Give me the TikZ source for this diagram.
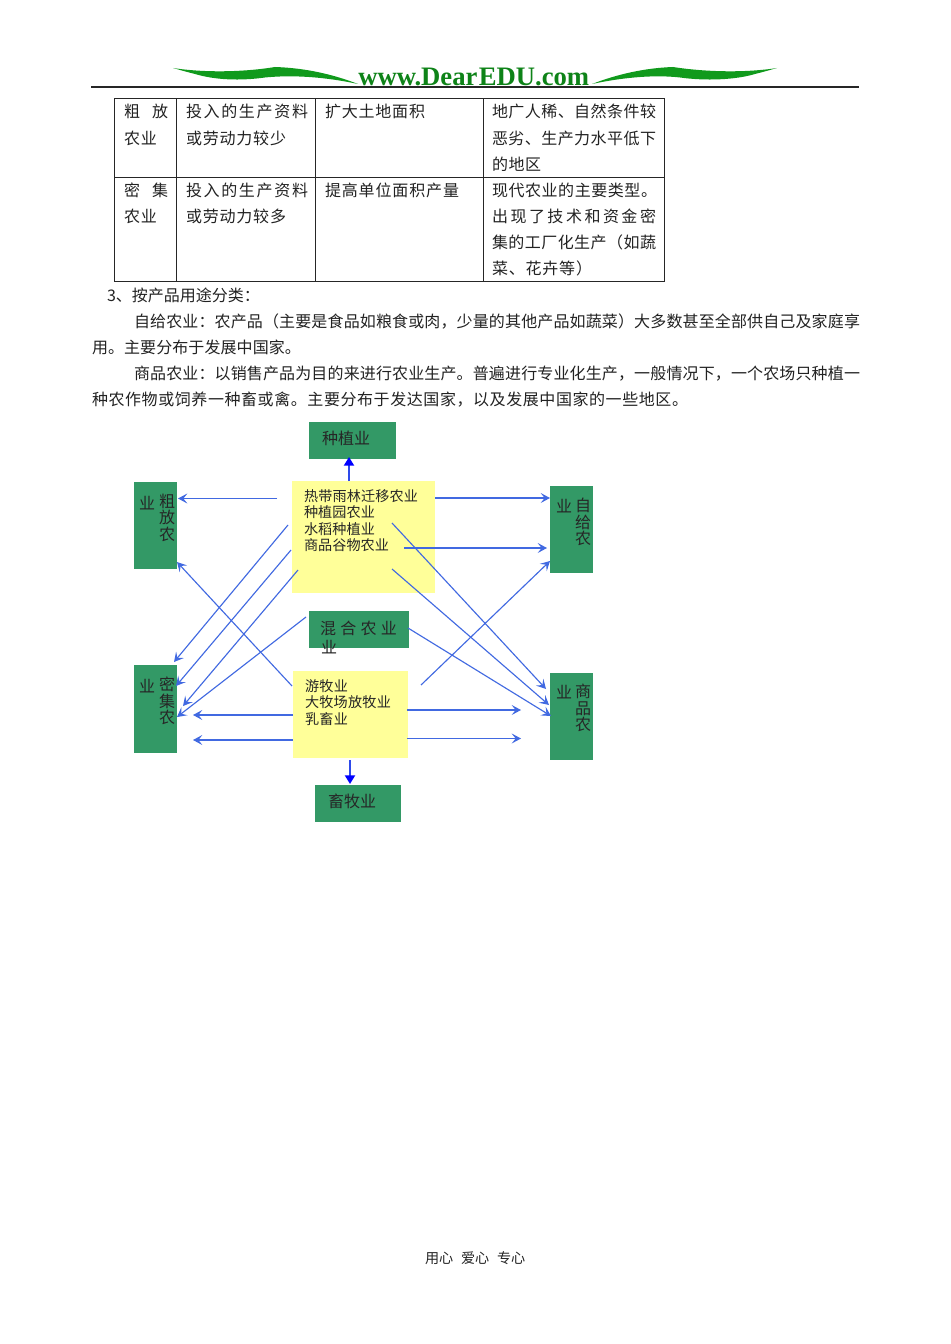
\documentclass[tikz,border=0pt]{standalone}
\usepackage{fontspec}
\setmainfont{Noto Sans CJK SC}
\newfontfamily\logofont{Liberation Serif}
\usetikzlibrary{arrows.meta,fit}
\newdimen\pxu \pxu=0.75pt
\makeatletter
\newcommand\spr[2]{\hbox to #1\pxu{\def\zsep{}\@tfor\zc:=#2\do{\zsep\zc\def\zsep{\hfil}}}}
\makeatother
\definecolor{gbox}{HTML}{339966}
\definecolor{ybox}{HTML}{FFFF99}
\definecolor{flowc}{HTML}{4169E1}
\definecolor{ink}{HTML}{222222}
\definecolor{leaf}{HTML}{109A1C}
\tikzset{
  body/.style={anchor=west,inner sep=0pt,outer sep=0pt,text=ink,font=\fontsize{12}{12}\selectfont},
  small/.style={anchor=west,inner sep=0pt,outer sep=0pt,text=black!85,font=\fontsize{10.6}{10.6}\selectfont},
  lab/.style={inner sep=0pt,outer sep=0pt,text=black!85,font=\fontsize{12}{12}\selectfont},
  column/.style={lab,align=center,font=\fontsize{12}{12.4}\selectfont},
  greenbox/.style={fill=gbox,inner sep=0pt,outer sep=0pt},
  yellowbox/.style={fill=ybox,inner sep=0pt,outer sep=0pt},
  flow/.style={draw=flowc,line width=.85pt,-{Stealth[length=7pt,width=7.5pt,inset=3pt]}},
  hflow/.style={flow,line width=1.15pt},
  major/.style={draw=flowc!70!blue,line width=1.5pt,-{Triangle[length=6.5pt,width=7.5pt,fill=blue,color=blue]}},
  rule/.style={draw=black!85,line width=.75pt},
}
\newcommand\arr[4][flow]{\coordinate (#2s) at (#3);\coordinate (#2e) at (#4);\draw[#1] (#2s) -- (#2e);}
\begin{document}
\begin{tikzpicture}[x=0.75pt,y=-0.75pt]
\useasboundingbox (0,0) rectangle (950,1344);
\fill[white] (0,0) rectangle (950,1344);
% header
\fill[leaf] (173,68) .. controls (205,73) and (245,72) .. (275,67)
  .. controls (305,68) and (332,74) .. (358,84)
  .. controls (335,79) and (300,74) .. (265,77.5)
  .. controls (240,81) and (215,80) .. (195,74) .. controls (187,72) and (180,70) .. (173,68) -- cycle;
\fill[leaf] (777,68) .. controls (745,73) and (705,72) .. (673,67)
  .. controls (645,68) and (618,74) .. (592,84)
  .. controls (615,79) and (650,74) .. (680,77.5)
  .. controls (705,81) and (735,80) .. (755,74) .. controls (763,72) and (770,70) .. (777,68) -- cycle;
\node[inner sep=0pt,anchor=west,text=leaf!85!black,font=\logofont\bfseries\fontsize{20}{20}\selectfont] (logo) at (358,77) {www.Dear\kern1pt EDU.com};
\draw[black!85,line width=1pt] (91,87) -- (859,87);
% table
\draw[rule] (114.5,98.3) rectangle (664.5,281.8);
\draw[rule] (114.5,177.3) -- (664.5,177.3);
\draw[rule] (176.5,98.3) -- (176.5,281.8);
\draw[rule] (315.8,98.3) -- (315.8,281.8);
\draw[rule] (483.6,98.3) -- (483.6,281.8);
\node[body] (c1) at (124,111.5) {\spr{44}{粗放}};
\node[body] (c2) at (124,138) {\spr{33}{农业}};
\node[body] (c3) at (186,111.5) {\spr{122}{投入的生产资料}};
\node[body] (c4) at (186,138) {\spr{100}{或劳动力较少}};
\node[body] (c5) at (325,111.5) {\spr{100}{扩大土地面积}};
\node[body] (c6) at (492,111.5) {\spr{164}{地广人稀、自然条件较}};
\node[body] (c7) at (492,138) {\spr{164}{恶劣、生产力水平低下}};
\node[body] (c8) at (492,164) {\spr{49}{的地区}};
\node[body] (d1) at (124,190.5) {\spr{44}{密集}};
\node[body] (d2) at (124,216.5) {\spr{33}{农业}};
\node[body] (d3) at (186,190.5) {\spr{122}{投入的生产资料}};
\node[body] (d4) at (186,216.5) {\spr{100}{或劳动力较多}};
\node[body] (d5) at (325,190.5) {\spr{134}{提高单位面积产量}};
\node[body] (d6) at (492,190.5) {\spr{165}{现代农业的主要类型。}};
\node[body] (d7) at (492,216.5) {\spr{164}{出现了技术和资金密}};
\node[body] (d8) at (492,242.5) {\spr{164}{集的工厂化生产（如蔬}};
\node[body] (d9) at (492,268.5) {\spr{100}{菜、花卉等）}};
% paragraphs
\node[body] (p1) at (107,295) {\spr{151}{3、按产品用途分类：}};
\node[body] (p2) at (134,321.5) {\spr{726}{自给农业：农产品（主要是食品如粮食或肉，少量的其他产品如蔬菜）大多数甚至全部供自己及家庭享}};
\node[body] (p3) at (92,347.5) {\spr{209}{用。主要分布于发展中国家。}};
\node[body] (p4) at (134,373.5) {\spr{726}{商品农业：以销售产品为目的来进行农业生产。普遍进行专业化生产，一般情况下，一个农场只种植一}};
\node[body] (p5) at (92,399.5) {\spr{596}{种农作物或饲养一种畜或禽。主要分布于发达国家，以及发展中国家的一些地区。}};
% diagram boxes
\node[greenbox,fit={(309,422)(396,459)}] (zhong) {};
\node[greenbox,fit={(133.5,482)(177,569)}] (cu) {};
\node[greenbox,fit={(133.5,665)(177,752.5)}] (mi) {};
\node[greenbox,fit={(550,486)(593,573)}] (zi) {};
\node[greenbox,fit={(550,672.5)(593,760)}] (shang) {};
\node[greenbox,fit={(308.5,610.5)(409,648)}] (hun) {};
\node[greenbox,fit={(314.5,784.5)(400.5,822)}] (xu) {};
\node[yellowbox,fit={(291.5,481)(435,593)}] (ya) {};
\node[yellowbox,fit={(293,671)(408,758)}] (yb) {};
% connectors
\arr[major]{m1}{349,481}{349,457}
\arr[major]{m2}{350,760}{350,784}
\arr[hflow]{a1}{277,498.5}{178,498.5}
\arr{a2}{288,525}{174,662}
\arr{a3}{291,550}{176,686}
\arr{a4}{298,570}{183,706}
\arr{a5}{306,617}{177,717}
\arr{a6}{292,686}{177,562}
\arr[hflow]{a7}{293,715}{193,715}
\arr[hflow]{a8}{293,740}{193,740}
\arr[hflow]{a9}{407,710}{521,710}
\arr[hflow]{a10}{407,738.5}{521,738.5}
\arr[hflow]{a11}{435,498}{550,498}
\arr[hflow]{a12}{404,548}{547,548}
\arr{a13}{421,685}{550,561}
\arr{a14}{392,523}{546,689}
\arr{a15}{392,569}{549,705}
\arr{a16}{408,628}{551,716}
% box labels
\node[lab,anchor=west] (t1) at (322,438.5) {种植业};
\node[lab,anchor=west] (t2) at (328,801) {畜牧业};
\node[lab,anchor=west] (t3) at (320,628) {\spr{77}{混合农业}};
\node[lab,anchor=west] (t4) at (321,647) {业};
\node[lab,anchor=west] (u1) at (139,503) {业};
\node[column,anchor=north] (v1) at (167,494) {粗\\放\\农};
\node[lab,anchor=west] (u2) at (139,686) {业};
\node[column,anchor=north] (v2) at (167,677) {密\\集\\农};
\node[lab,anchor=west] (u3) at (556,506) {业};
\node[column,anchor=north] (v3) at (583,498) {自\\给\\农};
\node[lab,anchor=west] (u4) at (556,692) {业};
\node[column,anchor=north] (v4) at (583,684) {商\\品\\农};
\node[small] (y1) at (304,496) {\spr{114}{热带雨林迁移农业}};
\node[small] (y2) at (304,512.5) {\spr{71}{种植园农业}};
\node[small] (y3) at (304,529) {\spr{71}{水稻种植业}};
\node[small] (y4) at (304,545.5) {\spr{85}{商品谷物农业}};
\node[small] (z1) at (305,686) {\spr{43}{游牧业}};
\node[small] (z2) at (305,702.5) {\spr{86}{大牧场放牧业}};
\node[small] (z3) at (305,719) {\spr{43}{乳畜业}};
% footer
\node[small] (f1) at (425,1258) {用心};
\node[small] (f2) at (461,1258) {爱心};
\node[small] (f3) at (497,1258) {专心};
\end{tikzpicture}
\end{document}
